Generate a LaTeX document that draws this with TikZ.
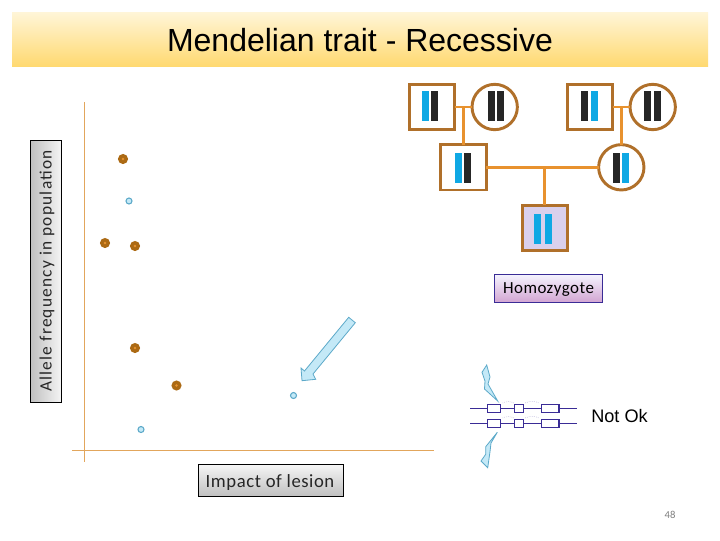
\documentclass[tikz,border=0pt]{standalone}
\usepackage{fontspec}
\setmainfont{Liberation Sans}
\newfontfamily\calib{Carlito}
\newfontfamily\calibA[LetterSpace=7]{Carlito}
\newfontfamily\calibB[LetterSpace=3]{Carlito}
\definecolor{ped}{HTML}{B0702A}
\definecolor{dotc}{HTML}{AC6A14}
\definecolor{conn}{HTML}{E8922E}
\definecolor{blu}{HTML}{0FA8E4}
\definecolor{drk}{HTML}{262626}
\definecolor{axisc}{HTML}{E2A65C}
\definecolor{genec}{HTML}{3A2C96}
\definecolor{boltline}{HTML}{5CA9C9}
\definecolor{boltfill}{HTML}{C4E9F7}
\tikzset{
 x=0.75pt,y=-0.75pt,
 sq/.style={draw=ped,line width=2.2pt,fill=white,minimum size=34pt,inner sep=0pt,outer sep=0pt,rectangle},
 ci/.style={draw=ped,line width=2.2pt,fill=white,minimum size=34pt,inner sep=0pt,outer sep=0pt,circle},
 link/.style={draw=conn,line width=1.9pt},
 barb/.style={fill=blu,draw=none},
 bard/.style={fill=drk,draw=none},
 bdot/.style={circle,fill=dotc,draw=none,minimum size=7.6pt,inner sep=0pt},
 ldot/.style={circle,fill=boltfill,draw=boltline,line width=.8pt,minimum size=4.5pt,inner sep=0pt},
 axisl/.style={draw=axisc,line width=.9pt},
 label/.style={draw=black,line width=.7pt,inner sep=0pt,outer sep=0pt},
 exon/.style={draw=genec,line width=1pt,fill=white,inner sep=0pt,outer sep=0pt,minimum height=6pt},
 gene/.style={draw=genec,line width=1.1pt},
 bolt/.style={draw=boltline,line width=.6pt,fill=boltfill},
 hop/.style={draw=genec!45,line width=.4pt,densely dotted},
}
\begin{document}
\begin{tikzpicture}
\useasboundingbox (0,0) rectangle (720,540);
\fill[white] (0,0) rectangle (720,540);
% title
\shade[top color={rgb,255:red,255;green,245;blue,215},bottom color={rgb,255:red,255;green,217;blue,112}] (12,12.5) rectangle (708,66.5);
\node[font=\fontsize{24}{28}\selectfont,anchor=center] (title) at (360,40) {Mendelian trait - Recessive};
% axes
\coordinate (ya) at (84.5,102); \coordinate (yb) at (84.5,462);
\coordinate (xa) at (72,450.5); \coordinate (xb) at (434,450.5);
\draw[axisl] (ya) -- (yb);
\draw[axisl] (xa) -- (xb);
% axis labels
\shade[left color=gray!50,right color=gray!8] (30,140) rectangle (61.5,402);
\draw[label] (30,140) rectangle (61.5,402);
\node[rotate=90,font=\calibA\fontsize{13}{15}\selectfont,text=black!85] (ylab) at (47,271) {Allele frequency in population};
\shade[top color=gray!8,bottom color=gray!50] (198.5,464.5) rectangle (343.5,496.5);
\draw[label] (198.5,464.5) rectangle (343.5,496.5);
\node[font=\calibB\fontsize{14}{16}\selectfont,text=black!85] (xlab) at (270,482.5) {Impact of lesion};
% dots
\foreach \n/\a/\b in {d1/123/159,d2/105/243,d3/135/246,d4/135/348,d5/176.5/385.5}{
 \node[bdot] (\n) at (\a,\b) {};
 \fill[conn] (\n) circle (1pt);
}
\node[ldot] (l1) at (129,201) {};
\node[ldot] (l2) at (293.5,395.5) {};
\node[ldot] (l3) at (141,429.5) {};
% big arrow
\draw[bolt,line join=miter] (348.7,317.3) -- (355.3,322.7) -- (313,374) -- (315.7,379.3) -- (302,380.7) -- (301,368) -- (304.5,371) -- cycle;
% pedigree nodes
\node[sq] (s1) at (432,107) {};
\node[ci] (c1) at (494.7,107) {};
\node[sq] (s2) at (590,107) {};
\node[ci] (c2) at (652.7,107) {};
\node[sq] (s3) at (463.5,167.3) {};
\node[ci] (c3) at (621.3,167.3) {};
\node[sq,fill={rgb,255:red,218;green,208;blue,236}] (s4) at (544.7,228) {};
% connectors
\draw[link] (s1.east) -- (c1.west);
\draw[link] (s2.east) -- (c2.west);
\draw[link] (s3.east) -- (c3.west);
\draw[link] (s3.north |- s1.east) -- (s3.north);
\draw[link] (c3.north |- c2.west) -- (c3.north);
\draw[link] (s4.north |- s3.east) -- (s4.north);
% chromosome bars
\foreach \xa/\xb/\ya/\cola/\colb in {
 422/430.7/91/barb/bard,
 488/497/91/bard/bard,
 581/591/91/bard/barb,
 643.7/653.7/91/bard/bard,
 455/463.7/153/barb/bard,
 613/622/153/bard/barb,
 534/545/214/barb/barb}{
 \fill[\cola] (\xa,\ya) rectangle ++(7.3,29.5);
 \fill[\colb] (\xb,\ya) rectangle ++(7.3,29.5);
}
% homozygote
\shade[top color=blue!4!white,bottom color=violet!35!white,draw=none] (494.5,274) rectangle (602.5,302);
\draw[draw=genec,line width=.7pt] (494.5,274) rectangle (602.5,302);
\node[font=\calibB\fontsize{12.7}{14}\selectfont] (hom) at (548.5,290) {Homozygote};
% gene copies
\foreach \yy/\nm in {408.3/a,423.3/b}{
 \coordinate (g\nm l) at (470,\yy); \coordinate (g\nm r) at (576.7,\yy);
 \draw[gene] (g\nm l) -- (g\nm r);
 \node[exon,minimum width=9.6pt] (e\nm1) at (494.2,\yy) {};
 \node[exon,minimum width=6.4pt] (e\nm2) at (519,\yy) {};
 \node[exon,minimum width=13pt] (e\nm3) at (550.3,\yy) {};
 \draw[hop] ([xshift=1.5pt,yshift=1pt]e\nm1.north east) to[bend left=25] ([xshift=-.5pt,yshift=1pt]e\nm2.north west);
 \draw[hop] ([xshift=1.5pt,yshift=1pt]e\nm2.north east) to[bend left=25] ([xshift=-2pt,yshift=1pt]e\nm3.north west);
}
% bolts
\draw[bolt] (486.7,365) -- (490,377) -- (488,384) -- (497.7,401) -- (484.5,389) -- (485,381) -- (482,372.3) -- cycle;
\draw[bolt] (497.3,432.3) -- (491,443) -- (490,451.7) -- (487.7,467.7) -- (481,461) -- (485.7,454.3) -- (485.7,446.7) -- cycle;
\node[font=\fontsize{13.6}{16}\selectfont] (nok) at (619.5,416) {Not Ok};
\node[font=\calib\fontsize{8}{10}\selectfont,text=gray] (pg) at (670,515) {48};
\end{tikzpicture}
\end{document}
